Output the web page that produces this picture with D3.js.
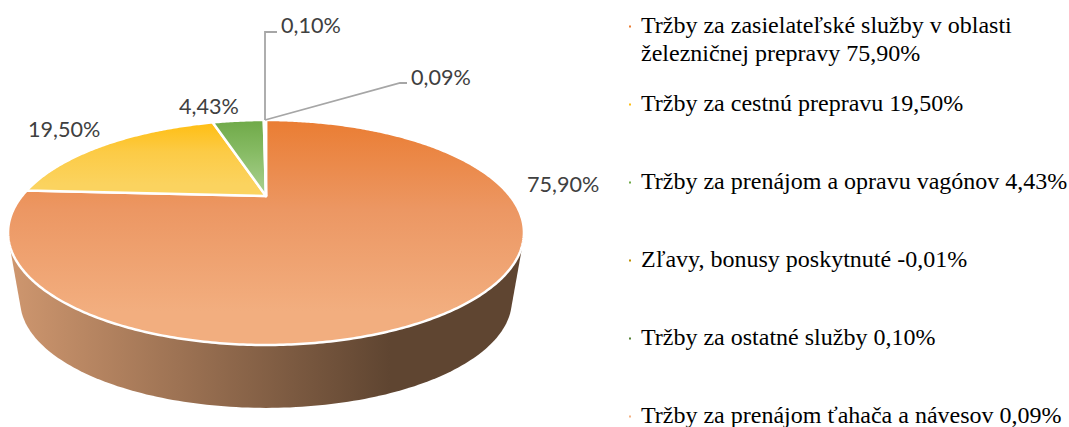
<!DOCTYPE html>
<html>
<head>
<meta charset="utf-8">
<script src="https://cdn.jsdelivr.net/npm/d3@7"></script>
<style>
html,body{margin:0;padding:0;background:#fff;overflow:hidden}
svg{display:block}
</style>
</head>
<body>
<svg id="chart" width="1069" height="427"></svg>
<script>
// values in pie order, the negative one gets no slice
const categories = [
  "Tržby za zasielateľské služby v oblasti železničnej prepravy",
  "Tržby za cestnú prepravu",
  "Tržby za prenájom a opravu vagónov",
  "Zľavy, bonusy poskytnuté",
  "Tržby za ostatné služby",
  "Tržby za prenájom ťahača a návesov"
];
const values = [75.90, 19.50, 4.43, -0.01, 0.10, 0.09];
const valueLabels = ["75,90%", "19,50%", "4,43%", "-0,01%", "0,10%", "0,09%"];
const legendLines = [
  ["Tržby za zasielateľské služby v oblasti", "železničnej prepravy 75,90%"],
  ["Tržby za cestnú prepravu 19,50%"],
  ["Tržby za prenájom a opravu vagónov 4,43%"],
  ["Zľavy, bonusy poskytnuté -0,01%"],
  ["Tržby za ostatné služby 0,10%"],
  ["Tržby za prenájom ťahača a návesov 0,09%"]
];
const topColors = ["#ea7d33", "#ffbe12", "#6fa948", "#bf9000", "#548235", "#f4b183"];
const midColors = ["#ec9763", "#fccb46", "#85ba62", "#bf9000", "#548235", "#f4b183"];
const bottomColors = ["#f2ae7f", "#fbd35f", "#a2cc86", "#bf9000", "#548235", "#f4b183"];

const svg = d3.select("#chart");
const defs = svg.append("defs");

// disc in perspective: apex sits above the middle of the ellipse
const cx = 266, apexY = 196;
const persp = 0.3244, scaleU = 244, scaleV = 100.66;
function project(u, v) {
  const w = 1 - persp * v;
  return [cx + scaleU * u / w, apexY + scaleV * v / w];
}
function onRim(a) {
  return project(Math.sin(a), -Math.cos(a));
}
// the lower edge of the wall, same ellipse a bit smaller and further down
const wallScale = 0.953, wallCenterY = 232.5, wallDrop = 68.2;
function onLowerRim(a) {
  const p = onRim(a);
  return [cx + (p[0] - cx) * wallScale, wallCenterY + wallDrop + (p[1] - wallCenterY) * wallScale];
}

const pie = d3.pie().sort(null).value(d => d);
const arcs = pie(values);
const line = d3.line();

// side wall
const wallGrad = defs.append("linearGradient")
  .attr("id", "wallGrad")
  .attr("gradientUnits", "userSpaceOnUse")
  .attr("x1", 8).attr("x2", 524).attr("y1", 0).attr("y2", 0);
wallGrad.append("stop").attr("offset", 0).attr("stop-color", "#cf976f");
wallGrad.append("stop").attr("offset", 0.74).attr("stop-color", "#5f4531");
wallGrad.append("stop").attr("offset", 1).attr("stop-color", "#5f4531");

const angles = d3.range(0, 2 * Math.PI, Math.PI / 180);
const hull = d3.polygonHull(angles.map(onRim).concat(angles.map(onLowerRim)));
svg.append("path")
  .attr("d", line(hull) + "Z")
  .attr("fill", "url(#wallGrad)");

// top face
arcs.forEach((d, i) => {
  const grad = defs.append("linearGradient")
    .attr("id", "slice" + i)
    .attr("x1", 0).attr("x2", 0).attr("y1", 0).attr("y2", 1);
  grad.append("stop").attr("offset", 0).attr("stop-color", topColors[i]);
  grad.append("stop").attr("offset", 0.4).attr("stop-color", midColors[i]);
  grad.append("stop").attr("offset", 0.85).attr("stop-color", bottomColors[i]);
});

svg.append("g").selectAll("path")
  .data(arcs.filter(d => d.endAngle > d.startAngle))
  .join("path")
  .attr("d", d => {
    const steps = Math.max(2, Math.ceil((d.endAngle - d.startAngle) * 90));
    const pts = d3.range(steps + 1).map(s => onRim(d.startAngle + (d.endAngle - d.startAngle) * s / steps));
    return line([project(0, 0)].concat(pts)) + "Z";
  })
  .attr("fill", d => "url(#slice" + d.index + ")")
  .attr("stroke", "#fff")
  .attr("stroke-width", 2.5)
  .attr("stroke-linejoin", "round");

// value labels, positions by hand like a moved office label
const labelSpots = [[527, 192], [28, 137], [179, 114], null, [281, 33], [411, 85]];
const leaders = { 4: [[265, 32], [277, 32]], 5: [[400, 83], [407, 83]] };

Object.keys(leaders).forEach(k => {
  const d = arcs[k];
  const start = onRim((d.startAngle + d.endAngle) / 2);
  svg.append("path")
    .attr("d", line([[265, start[1]]].concat(leaders[k])))
    .attr("fill", "none")
    .attr("stroke", "#a6a6a6")
    .attr("stroke-width", 1.8);
});

svg.append("g").selectAll("text")
  .data(valueLabels.map((t, i) => ({ t, spot: labelSpots[i] })).filter(d => d.spot))
  .join("text")
  .attr("x", d => d.spot[0])
  .attr("y", d => d.spot[1])
  .attr("font-family", "Lato, 'Open Sans', sans-serif")
  .attr("font-size", 21.6)
  .attr("fill", "#404040")
  .text(d => d.t);

// legend
const rowY = d3.scalePoint(d3.range(categories.length), [33, 423]);
const legend = svg.append("g").selectAll("g")
  .data(legendLines)
  .join("g")
  .attr("transform", (d, i) => `translate(0,${rowY(i)})`);

legend.append("rect")
  .attr("x", 629).attr("y", -7.5)
  .attr("width", 2).attr("height", 2)
  .attr("fill", (d, i) => topColors[i]);

legend.selectAll("text")
  .data(d => d)
  .join("text")
  .attr("x", 641)
  .attr("y", (d, i) => i * 28)
  .attr("font-family", "'Liberation Serif', serif")
  .attr("font-size", 24)
  .attr("fill", "#000")
  .text(d => d);
</script>
</body>
</html>
